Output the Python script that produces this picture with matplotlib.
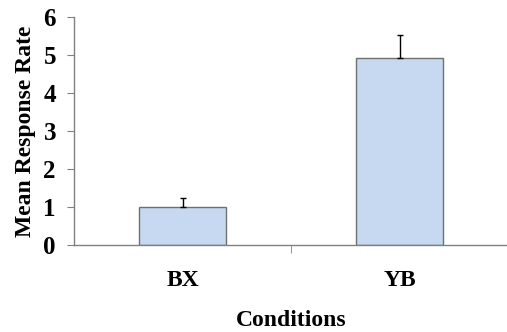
import matplotlib.pyplot as plt
from matplotlib.ticker import FixedLocator

conditions = ['BX', 'YB']
means = [1.0, 4.93]
errors = [0.22, 0.6]

plt.rcParams['font.family'] = ['Liberation Serif', 'DejaVu Serif']
plt.rcParams['font.weight'] = 'bold'

fig = plt.figure(figsize=(5.07, 3.32), dpi=100)
ax = fig.add_axes([0.146, 0.263, 0.856, 0.685])

x = range(len(conditions))
ax.bar(x, means, width=0.4, color='#c6d9f0', edgecolor='#707070', linewidth=1.0, zorder=2)
ax.errorbar(x, means, yerr=[[0, 0], errors], fmt='none', ecolor='black',
            elinewidth=1.0, capsize=2.5, capthick=1.0, zorder=3)

ax.set_xlim(-0.5, 1.5)
ax.set_ylim(0, 6)
ax.set_yticks(range(7))
ax.set_xticks(list(x))
ax.set_xticklabels(conditions, fontsize=17, fontweight='bold')
ax.xaxis.set_minor_locator(FixedLocator([0.5]))
ax.tick_params(axis='x', which='major', length=0, pad=18)
ax.tick_params(axis='x', which='minor', length=6, color='#808080', direction='out')
ax.tick_params(axis='y', length=5, color='#808080', labelsize=18, pad=8)
for lab in ax.get_yticklabels():
    lab.set_fontweight('bold')

for s in ['top', 'right']:
    ax.spines[s].set_visible(False)
for s in ['left', 'bottom']:
    ax.spines[s].set_color('#808080')
    ax.spines[s].set_linewidth(1.0)

ax.set_ylabel('Mean Response Rate', fontsize=17, fontweight='bold', labelpad=5)
ax.set_xlabel('Conditions', fontsize=17, fontweight='bold', labelpad=14)

fig.savefig('out.png', dpi=100)
